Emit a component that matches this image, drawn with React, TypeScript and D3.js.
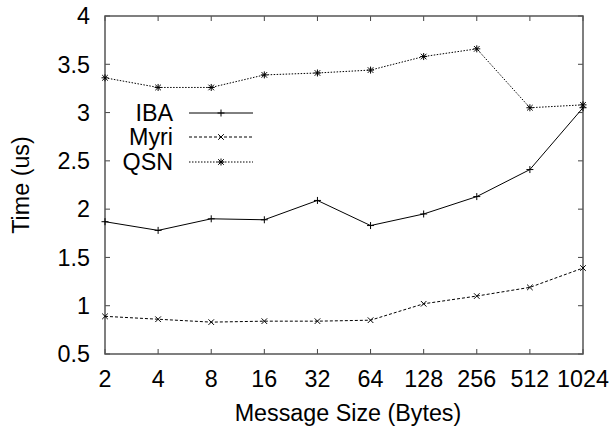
import React from "react";
import * as d3 from "d3";

const sizes = ["2", "4", "8", "16", "32", "64", "128", "256", "512", "1024"];
const iba = [1.87, 1.78, 1.9, 1.89, 2.09, 1.83, 1.95, 2.13, 2.41, 3.05];
const myri = [0.89, 0.86, 0.83, 0.84, 0.84, 0.85, 1.02, 1.1, 1.19, 1.39];
const qsn = [3.36, 3.26, 3.26, 3.39, 3.41, 3.44, 3.58, 3.66, 3.05, 3.08];
const yTicks = [0.5, 1, 1.5, 2, 2.5, 3, 3.5, 4];
const seriesNames = ["IBA", "Myri", "QSN"];

const W = 612, H = 432;
const L = 105, R = 583, T = 16, B = 354;
const FONT = "'Liberation Sans', Arial, Helvetica, sans-serif";
const FS = 23.3;

function Marker({ kind, x, y }: { kind: string; x: number; y: number }) {
  const s = 3.5;
  const plus = <path d={`M${x - s},${y}H${x + s}M${x},${y - s}V${y + s}`} />;
  const cross = <path d={`M${x - s * 0.8},${y - s * 0.8}L${x + s * 0.8},${y + s * 0.8}M${x - s * 0.8},${y + s * 0.8}L${x + s * 0.8},${y - s * 0.8}`} />;
  if (kind === "IBA") return plus;
  if (kind === "Myri") return cross;
  return <g>{plus}{cross}</g>;
}

export default function App() {
  const x = d3.scalePoint<string>().domain(sizes).range([L, R]);
  const y = d3.scaleLinear().domain([0.5, 4]).range([B, T]);
  const line = d3.line<number>().x((_, i) => x(sizes[i])!).y((d) => y(d));
  const series = [
    { name: "IBA", data: iba, dash: "none" },
    { name: "Myri", data: myri, dash: "3,2" },
    { name: "QSN", data: qsn, dash: "1.5,1.5" },
  ];
  const legendY = [113, 137, 162];
  return (
    <svg width={W} height={H} style={{ position: "absolute", left: 0, top: 0, background: "#fff" }} fontFamily={FONT}>
      <g stroke="#444" strokeWidth={1}>
        {yTicks.map((t) => (
          <g key={t}>
            <line x1={L} x2={L + 5} y1={y(t)} y2={y(t)} />
            <line x1={R} x2={R - 5} y1={y(t)} y2={y(t)} />
          </g>
        ))}
        {sizes.map((s) => (
          <g key={s}>
            <line x1={x(s)} x2={x(s)} y1={B} y2={B - 5} />
            <line x1={x(s)} x2={x(s)} y1={T} y2={T + 5} />
          </g>
        ))}
      </g>
      <rect x={L} y={T} width={R - L} height={B - T} fill="none" stroke="#555" strokeWidth={1.5} />
      {yTicks.map((t) => (
        <text key={t} x={90} y={y(t) + 8.3} textAnchor="end" fontSize={FS} fill="#000">{t}</text>
      ))}
      {sizes.map((s) => (
        <text key={s} x={x(s)} y={387} textAnchor="middle" fontSize={FS} fill="#000">{s}</text>
      ))}
      <text x={348} y={421} textAnchor="middle" fontSize={FS} fill="#000">Message Size (Bytes)</text>
      <text transform={`translate(29,${(T + B) / 2}) rotate(-90)`} textAnchor="middle" fontSize={FS} fill="#000">Time (us)</text>
      {series.map((s) => (
        <g key={s.name} stroke="#000" fill="none" strokeWidth={1}>
          <path d={line(s.data)!} strokeDasharray={s.dash} />
          {s.data.map((v, i) => (
            <Marker key={i} kind={s.name} x={x(sizes[i])!} y={y(v)} />
          ))}
        </g>
      ))}
      {series.map((s, i) => (
        <g key={s.name}>
          <text x={173} y={legendY[i] + 8.3} textAnchor="end" fontSize={FS} fill="#000">{seriesNames[i]}</text>
          <g stroke="#000" fill="none" strokeWidth={1}>
            <line x1={189} x2={253} y1={legendY[i]} y2={legendY[i]} strokeDasharray={s.dash} />
            <Marker kind={s.name} x={221} y={legendY[i]} />
          </g>
        </g>
      ))}
    </svg>
  );
}
